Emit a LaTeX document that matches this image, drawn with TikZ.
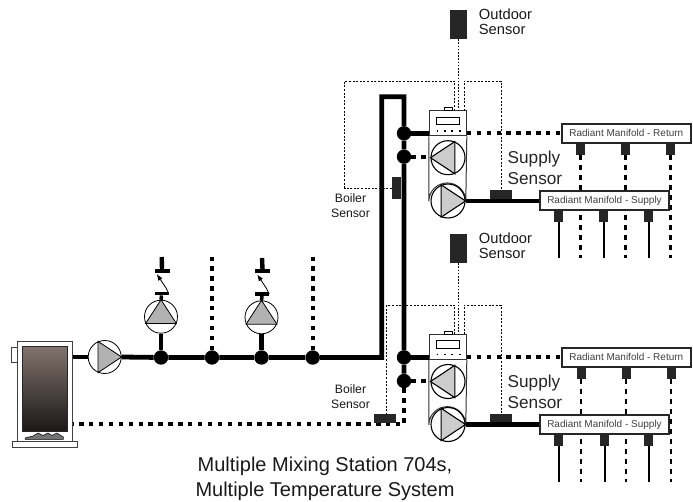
\documentclass[tikz,border=0pt]{standalone}
\usepackage{fontspec}
\setmainfont{Liberation Sans}
\usetikzlibrary{arrows, arrows.meta, calc}
\definecolor{boilertop}{RGB}{128,116,108}
\definecolor{boilerbot}{RGB}{28,22,22}
\tikzset{
	pipe/.style={line width=4.8pt},
	retpipe/.style={line width=4.2pt, dash pattern=on 4.4pt off 5.5pt},
	retlead/.style={line width=2.8pt, dash pattern=on 5pt off 5pt},
	supplead/.style={line width=2pt},
	wire/.style={line width=.8pt, dash pattern=on 2pt off 1.6pt},
	joint/.style={circle, fill=black, inner sep=0pt, minimum size=14.4pt},
	pump/.style={circle, draw=black, fill=white, line width=.8pt, inner sep=0pt, minimum size=33pt},
	mixpump/.style={pump, line width=1.1pt, minimum size=34pt},
	manifold/.style={draw=black!85, fill=white, line width=2pt, inner sep=0pt, text=black!75,
		font=\fontsize{10}{12}\selectfont},
	block/.style={fill=black!85, inner sep=0pt},
	stub/.style={block, minimum width=9pt, minimum height=11.5pt},
	bar/.style={fill=black, inner sep=0pt, minimum width=14pt, minimum height=3.4pt},
	label/.style={inner sep=0pt, align=center, text=black!90, font=\fontsize{12.2}{15}\selectfont},
	outlabel/.style={inner sep=0pt, align=left, text=black!90, font=\fontsize{14.7}{15}\selectfont},
	biglabel/.style={inner sep=0pt, align=left, text=black!85, font=\fontsize{17.2}{20.7}\selectfont},
	head/.style={draw=black!80, fill=white, line width=1pt, inner sep=0pt, minimum width=37pt, minimum height=25.3pt},
}
\begin{document}
\begin{tikzpicture}[>=Latex, x=1pt, y=-1pt]
%	\draw[gray!50, dashed, step=50] (0,0) grid (693,502);
	\useasboundingbox (0,0) rectangle (693,502);

	% boiler
	\draw[line width=1pt, draw=black!75, fill=white] (11.3,348) rectangle (17.3,362.7);
	\node[draw=black!75, fill=white, line width=1.2pt, inner sep=0pt, minimum width=55pt, minimum height=100pt] (boiler) at (44.8,391.7) {};
	\shade[top color=boilertop, bottom color=boilerbot] (22.7,346.7) rectangle (67.7,431.7);
	\draw[line width=.7pt, draw=black!85] (22.7,346.7) rectangle (67.7,431.7);
	\draw[line width=1pt, draw=black!75, fill=white] (12.7,441.7) rectangle (77.3,447.3);
	\draw[line width=.5pt, fill=black!55] (25,438) -- (33,436) -- (38,433) -- (43,435.5) -- (48,433) -- (52,435.5) -- (57,433) -- (63.3,437) -- (63.3,439.3) -- (25,439.3) -- cycle;

	% main line
	\node[pump] (pumpM) at (104.7,357) {};
	\fill[black!30] (pumpM.113) -- (pumpM.0) -- (pumpM.-113) -- cycle;
	\draw[line width=.8pt] (pumpM.113) -- (pumpM.0) -- (pumpM.-113) -- cycle;
	\node[joint] (jA) at (161,357.5) {};
	\node[joint] (jB) at (212,357.5) {};
	\node[joint] (jC) at (261.5,357.5) {};
	\node[joint] (jD) at (312.7,357.5) {};
	\node[joint] (jE) at (404,133.3) {};
	\node[joint] (jF) at (404,156.7) {};
	\node[joint] (jG) at (404,357.3) {};
	\node[joint] (jH) at (404,381) {};
	\coordinate (cornerL) at (381.7,96.7);
	\coordinate (cornerR) at (404,96.7);
	\coordinate (retC) at (404,424.3);
	\draw[pipe] (pumpM.west -| boiler.east) -- (pumpM.west);
	\draw[pipe] (pumpM.east) -- (jA) -- (jB) -- (jC) -- (jD) -| (cornerL) -- (cornerR) -- (jE) -- (jF) -- (jG) -- (jH);
	\draw[retpipe] (jH) -- (retC) -- (retC -| boiler.east);

	% zone branches
	\coordinate (topB) at (212,257);
	\coordinate (topD) at (312.7,257);
	\draw[retpipe] (jB) -- (topB);
	\draw[retpipe] (jD) -- (topD);

	\node[pump] (pumpC) at (161,316.7) {};
	\fill[black!30] (pumpC.90) -- (pumpC.-24) -- (pumpC.-156) -- cycle;
	\draw[line width=.8pt] (pumpC.90) -- (pumpC.-24) -- (pumpC.-156) -- cycle;
	\draw[pipe] (jA) -- (pumpC.south);
	\node[bar] (lowC) at (161.5,293.5) {};
	\node[bar, minimum width=15pt, minimum height=4pt] (upC) at (162,271) {};
	\coordinate (stemC) at (161.7,257);
	\draw[line width=3.5pt] (pumpC.north) -- (lowC.south);
	\draw[line width=4.4pt] (stemC) -- (upC.north);
	\draw[->, line width=.8pt] (lowC.east) -- ++(-3,-6) -- ++(-9,-13.5);

	\node[pump] (pumpD) at (261.5,317.3) {};
	\fill[black!30] (pumpD.90) -- (pumpD.-24) -- (pumpD.-156) -- cycle;
	\draw[line width=.8pt] (pumpD.90) -- (pumpD.-24) -- (pumpD.-156) -- cycle;
	\draw[pipe] (jC) -- (pumpD.south);
	\node[bar] (lowD) at (262,294) {};
	\node[bar, minimum width=15pt, minimum height=4pt] (upD) at (262.5,271.5) {};
	\coordinate (stemD) at (262,258);
	\draw[line width=3.5pt] (pumpD.north) -- (lowD.south);
	\draw[line width=4.4pt] (stemD) -- (upD.north);
	\draw[->, line width=.8pt] (lowD.east) -- ++(-3,-6) -- ++(-9,-13.5);

	% upper station
	\node[block, minimum width=17pt, minimum height=29pt] (outA) at (458.5,24.5) {};
	\node[outlabel, anchor=west] (outtextA) at (478.7,21.5) {Outdoor\\Sensor};
	\node[block, minimum width=9pt, minimum height=21.4pt] (boilA) at (396.5,188) {};
	\node[label] (boiltextA) at (350.5,205.5) {Boiler\\Sensor};
	\node[block, minimum width=22pt, minimum height=10pt] (supsA) at (501,195) {};
	\node[biglabel, anchor=west] (suptextA) at (507.5,168) {Supply\\Sensor};

	\node[head] (ctrlA) at (447.8,123.3) {};
	\draw[line width=1pt, draw=black!80, fill=white] (ctrlA.south west) -- ++(0,65) arc[start angle=180, end angle=360, radius=18.5] -- (ctrlA.south east);
	\draw[line width=.8pt, fill=white] (444.7,107.3) rectangle (452,110.7);
	\draw[line width=1pt] (436.7,117.3) rectangle (459.3,125);
	\draw[line width=1.8pt, dash pattern=on 1.8pt off 5.6pt] (436.6,130.7) -- (461,130.7);
	\draw[line width=.8pt, dash pattern=on 1.6pt off 1.6pt] (outA.south) -- (outA.south |- ctrlA.north);
	\coordinate (wA) at (454.5,110.7);
	\coordinate (wB) at (464,110.7);
	\draw[wire] (wA) -- ++(0,-29.7) -- ++(-109.8,0) |- (boilA.west);
	\draw[wire] (wB) -- ++(0,-29.7) -- ++(37,0) -- (supsA.north -| 501,190);

	\node[mixpump] (mixA) at (448,157.7) {};
	\fill[black!20] (mixA.180) -- (mixA.67) -- (mixA.-67) -- cycle;
	\draw[line width=1.1pt] (mixA.180) -- (mixA.67) -- (mixA.-67) -- cycle;
	\node[mixpump] (mixB) at (448,201) {};
	\fill[black!20] (mixB.0) -- (mixB.113) -- (mixB.-113) -- cycle;
	\draw[line width=1.1pt] (mixB.0) -- (mixB.113) -- (mixB.-113) -- cycle;

	\node[manifold, minimum width=129pt, minimum height=19pt] (retA) at (626.3,133.3) {Radiant Manifold - Return};
	\node[stub] (rsA) at (580.5,149) {};
	\node[stub] (rsB) at (625.5,149) {};
	\node[stub] (rsC) at (670.5,149) {};
	\coordinate (reA) at (580.5,258);
	\coordinate (reB) at (625.5,258);
	\coordinate (reC) at (670.5,258);
	\draw[retlead] (rsA.south) -- (reA);
	\draw[retlead] (rsB.south) -- (reB);
	\draw[retlead] (rsC.south) -- (reC);
	\draw[pipe] (jE) -- (jE -| ctrlA.west);
	\draw[retpipe] (jE -| ctrlA.east) -- (retA.west);
	\draw[retpipe] (jF) -- (jF -| ctrlA.west);

	\node[manifold, minimum width=129.5pt, minimum height=19pt] (supA) at (604.5,201) {Radiant Manifold - Supply};
	\draw[pipe] (mixB.east) -- (supA.west);
	\node[stub] (ssA) at (558.5,216.5) {};
	\node[stub] (ssB) at (603.5,216.5) {};
	\node[stub] (ssC) at (648.5,216.5) {};
	\coordinate (seA) at (558.5,258);
	\coordinate (seB) at (603.5,258);
	\coordinate (seC) at (648.5,258);
	\draw[supplead] (ssA.south) -- (seA);
	\draw[supplead] (ssB.south) -- (seB);
	\draw[supplead] (ssC.south) -- (seC);

	% lower station
	\node[block, minimum width=17pt, minimum height=29pt] (outB) at (458.5,248.5) {};
	\node[outlabel, anchor=west] (outtextB) at (478.7,245.5) {Outdoor\\Sensor};
	\node[block, minimum width=22pt, minimum height=9pt] (boilB) at (385,418.5) {};
	\node[label] (boiltextB) at (350.5,397) {Boiler\\Sensor};
	\node[block, minimum width=22pt, minimum height=10pt] (supsB) at (501,419) {};
	\node[biglabel, anchor=west] (suptextB) at (507.5,392) {Supply\\Sensor};

	\node[head] (ctrlB) at (447.8,347) {};
	\draw[line width=1pt, draw=black!80, fill=white] (ctrlB.south west) -- ++(0,65) arc[start angle=180, end angle=360, radius=18.5] -- (ctrlB.south east);
	\draw[line width=.8pt, fill=white] (444.7,331) rectangle (452,334.4);
	\draw[line width=1pt] (436.7,341) rectangle (459.3,348.7);
	\draw[line width=1.8pt, dash pattern=on 1.8pt off 5.6pt] (436.6,354.4) -- (461,354.4);
	\draw[line width=.8pt, dash pattern=on 1.6pt off 1.6pt] (outB.south) -- (outB.south |- ctrlB.north);
	\coordinate (wC) at (454.5,334.4);
	\coordinate (wD) at (464,334.4);
	\draw[wire] (wC) -- ++(0,-29.4) -- ++(-67.8,0) -- (boilB.north -| 386.7,414);
	\draw[wire] (wD) -- ++(0,-29.4) -- ++(37,0) -- (supsB.north -| 501,414);

	\node[mixpump] (mixC) at (448,381.5) {};
	\fill[black!20] (mixC.180) -- (mixC.67) -- (mixC.-67) -- cycle;
	\draw[line width=1.1pt] (mixC.180) -- (mixC.67) -- (mixC.-67) -- cycle;
	\node[mixpump] (mixD) at (448,424.5) {};
	\fill[black!20] (mixD.0) -- (mixD.113) -- (mixD.-113) -- cycle;
	\draw[line width=1.1pt] (mixD.0) -- (mixD.113) -- (mixD.-113) -- cycle;

	\node[manifold, minimum width=129pt, minimum height=19pt] (retB) at (626.3,357.3) {Radiant Manifold - Return};
	\node[stub] (rsD) at (581,373) {};
	\node[stub] (rsE) at (626,373) {};
	\node[stub] (rsF) at (671,373) {};
	\coordinate (reD) at (581,482);
	\coordinate (reE) at (626,482);
	\coordinate (reF) at (671,482);
	\draw[retlead] (rsD.south) -- (reD);
	\draw[retlead] (rsE.south) -- (reE);
	\draw[retlead] (rsF.south) -- (reF);
	\draw[pipe] (jG) -- (jG -| ctrlB.west);
	\draw[retpipe] (jG -| ctrlB.east) -- (retB.west);
	\draw[retpipe] (jH) -- (jH -| ctrlB.west);

	\node[manifold, minimum width=129.5pt, minimum height=19pt] (supB) at (604.5,424.5) {Radiant Manifold - Supply};
	\draw[pipe] (mixD.east) -- (supB.west);
	\node[stub] (ssD) at (558.5,440) {};
	\node[stub] (ssE) at (604.5,440) {};
	\node[stub] (ssF) at (648.5,440) {};
	\coordinate (seD) at (558.5,482);
	\coordinate (seE) at (604.5,482);
	\coordinate (seF) at (648.5,482);
	\draw[supplead] (ssD.south) -- (seD);
	\draw[supplead] (ssE.south) -- (seE);
	\draw[supplead] (ssF.south) -- (seF);

	\node[inner sep=0pt, align=center, text=black!90, font=\fontsize{20}{24.6}\selectfont] (caption) at (325,479) {Multiple Mixing Station 704s,\\Multiple Temperature System};
\end{tikzpicture}
\end{document}
